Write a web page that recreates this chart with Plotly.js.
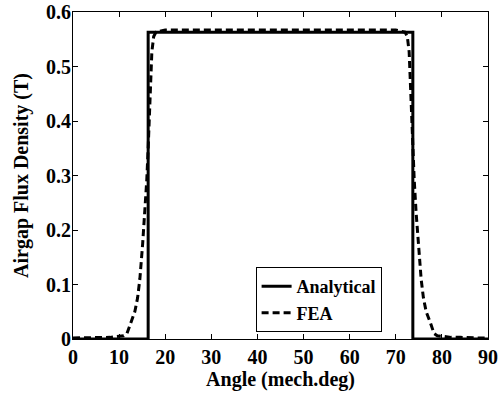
<!DOCTYPE html>
<html>
<head>
<meta charset="utf-8">
<script src="https://cdn.plot.ly/plotly-3.0.1.min.js"></script>
<style>html,body{margin:0;padding:0;background:#fff;}#chart{width:498px;height:396px;}</style>
</head>
<body>
<div id="chart"></div>
<script>
// Analytical (ideal rectangular) flux density
var analyticalX = [0, 16.3, 16.3, 73.7, 73.7, 90];
var analyticalY = [0, 0, 0.563, 0.563, 0, 0];

// FEA flux density
var feaX = [0, 2, 4, 6, 8, 10, 11, 11.7, 12.5, 13.4, 14.0, 14.5, 15.1, 15.6, 16.0, 16.3, 16.55, 16.85, 17.1, 17.5, 18, 20, 30, 45, 60, 70, 72, 72.5, 72.9, 73.15, 73.45, 73.7, 74.0, 74.4, 74.9, 75.5, 76.0, 76.6, 77.5, 78.3, 79, 80, 82, 84, 86, 88, 90];
var feaY = [0.002, 0.002, 0.002, 0.003, 0.003, 0.005, 0.006, 0.01, 0.03, 0.05, 0.075, 0.11, 0.174, 0.233, 0.292, 0.35, 0.409, 0.468, 0.527, 0.555, 0.563, 0.567, 0.567, 0.567, 0.567, 0.567, 0.563, 0.555, 0.527, 0.468, 0.409, 0.35, 0.292, 0.233, 0.174, 0.11, 0.075, 0.05, 0.03, 0.01, 0.006, 0.005, 0.003, 0.003, 0.002, 0.002, 0.002];

var xTicks = [0, 10, 20, 30, 40, 50, 60, 70, 80, 90];
var yTicks = [0, 0.1, 0.2, 0.3, 0.4, 0.5, 0.6];
var yTickText = ['0', '0.1', '0.2', '0.3', '0.4', '0.5', '0.6'];

var font = 'Liberation Serif, Times New Roman, serif';

var traces = [
  {x: analyticalX, y: analyticalY, mode: 'lines', name: 'Analytical',
   line: {color: '#000', width: 3}},
  {x: feaX, y: feaY, mode: 'lines', name: 'FEA', line: {color: '#000', width: 3, dash: '7px,4px'}}
];

var layout = {
  width: 498, height: 396,
  margin: {l: 73, r: 10, t: 12, b: 57},
  paper_bgcolor: '#fff', plot_bgcolor: '#fff',
  font: {family: font, color: '#000'},
  showlegend: true,
  legend: {x: 0.44, y: 0.22, xanchor: 'left', yanchor: 'top',
    bgcolor: '#fff', bordercolor: '#000', borderwidth: 1,
    font: {family: font, size: 18, color: '#000', weight: 'bold'},
    tracegroupgap: 0},
  xaxis: {range: [0, 90], tickvals: xTicks, ticktext: xTicks.map(String),
    ticks: 'inside', ticklen: 5, tickcolor: '#000', tickwidth: 1,
    showgrid: false, zeroline: false, showline: true, linecolor: '#000', linewidth: 1, mirror: 'ticks',
    tickfont: {family: font, size: 20, color: '#000', weight: 'bold'},
    title: {text: 'Angle (mech.deg)', font: {family: font, size: 20, color: '#000', weight: 'bold'}, standoff: 4}},
  yaxis: {range: [0, 0.6], tickvals: yTicks, ticktext: yTickText,
    ticks: 'inside', ticklen: 5, tickcolor: '#000', tickwidth: 1, ticklabelstandoff: -3,
    showgrid: false, zeroline: false, showline: true, linecolor: '#000', linewidth: 1, mirror: 'ticks',
    tickfont: {family: font, size: 20, color: '#000', weight: 'bold'},
    title: {text: 'Airgap Flux Density (T)', font: {family: font, size: 20, color: '#000', weight: 'bold'}, standoff: 12}}
};

Plotly.newPlot('chart', traces, layout, {displayModeBar: false, staticPlot: true});
</script>
</body>
</html>
